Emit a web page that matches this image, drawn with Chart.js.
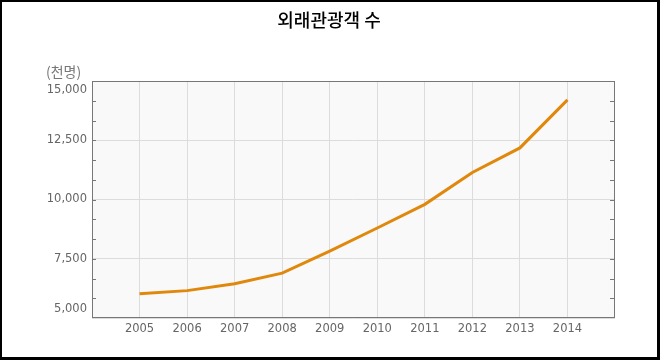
<!DOCTYPE html>
<html><head><meta charset="utf-8">
<script src="https://cdn.jsdelivr.net/npm/chart.js@4/dist/chart.umd.min.js"></script>
<style>
html,body{margin:0;padding:0;background:#000;}
#wrap{position:absolute;left:2px;top:2px;width:655px;height:355px;background:#fff;overflow:hidden;}
#c{position:absolute;left:-2px;top:-2px;}
</style></head><body>
<div id="wrap"><canvas id="c" width="660" height="360"></canvas></div>
<script>
const titleText = '외래관광객 수';
const unitText = '(천명)';
const years = [2005, 2006, 2007, 2008, 2009, 2010, 2011, 2012, 2013, 2014];
const visitors = [6023, 6155, 6448, 6891, 7818, 8798, 9795, 11140, 12176, 14202];
const yTicks = [5000, 7500, 10000, 12500, 15000];

const FONT = '"DejaVu Sans", Verdana, sans-serif';

const custom = {
  id: 'custom',
  beforeDraw(chart) {
    const {ctx, chartArea: a} = chart;
    ctx.save();
    ctx.fillStyle = '#f9f9f9';
    ctx.fillRect(a.left, a.top, a.right - a.left, a.bottom - a.top);
    ctx.restore();
  },
  afterDraw(chart) {
    const {ctx, chartArea: a, scales} = chart;
    const y = scales.y;
    ctx.save();
    ctx.strokeStyle = '#777';
    ctx.lineWidth = 1;
    ctx.strokeRect(a.left + 0.5, a.top + 0.5, a.right - a.left - 1, a.bottom - a.top - 1);
    ctx.beginPath();
    for (let i = 0; i < yTicks.length - 1; i++) {
      const step = (yTicks[i + 1] - yTicks[i]) / 3;
      for (let k = 0; k < 3; k++) {
        const v = yTicks[i] + k * step;
        if (v === y.min) continue;
        const py = Math.round(y.getPixelForValue(v)) + 0.5;
        ctx.moveTo(a.left, py); ctx.lineTo(a.left + 4, py);
        ctx.moveTo(a.right - 5, py); ctx.lineTo(a.right, py);
      }
    }
    ctx.stroke();
    ctx.fillStyle = '#666';
    ctx.font = '11.5px ' + FONT;
    ctx.textAlign = 'right';
    ctx.textBaseline = 'middle';
    yTicks.forEach(v => {
      let py = y.getPixelForValue(v);
      py = Math.max(a.top + 9, Math.min(a.bottom - 9, py));
      ctx.fillText(v.toLocaleString('en-US'), a.left - 5, py);
    });
    ctx.textAlign = 'left';
    ctx.fillStyle = '#777';
    ctx.font = '14px "Noto Sans CJK KR", sans-serif';
    ctx.fillText(unitText, 46, 72);
    ctx.fillStyle = '#000';
    ctx.textAlign = 'center';
    ctx.font = '500 18px "Noto Sans CJK KR", sans-serif';
    ctx.fillText(titleText, 329, 20);
    ctx.restore();
  }
};

new Chart(document.getElementById('c'), {
  type: 'line',
  data: {
    datasets: [{
      data: years.map((yr, i) => ({x: yr, y: visitors[i]})),
      borderColor: '#E0880C',
      borderWidth: 3,
      pointRadius: 0,
      tension: 0,
      fill: false
    }]
  },
  options: {
    responsive: false,
    animation: false,
    devicePixelRatio: 1,
    layout: {padding: {left: 0, right: 45, top: 81, bottom: 0}},
    plugins: {legend: {display: false}, title: {display: false}, tooltip: {enabled: false}},
    scales: {
      x: {
        type: 'linear', min: 2004, max: 2015,
        afterFit(s) { s.height = 42; },
        afterBuildTicks(s) { s.ticks = years.map(v => ({value: v})); },
        border: {display: false},
        grid: {color: '#dcdcdc', drawTicks: false},
        ticks: {color: '#666', font: {family: FONT, size: 11.5}, padding: 4,
          callback: v => String(v)}
      },
      y: {
        min: 5000, max: 15000,
        afterFit(s) { s.width = 92; },
        afterBuildTicks(s) { s.ticks = yTicks.map(v => ({value: v})); },
        border: {display: false},
        grid: {color: '#dcdcdc', drawTicks: false},
        ticks: {display: false}
      }
    }
  },
  plugins: [custom]
});
</script>
</body></html>
